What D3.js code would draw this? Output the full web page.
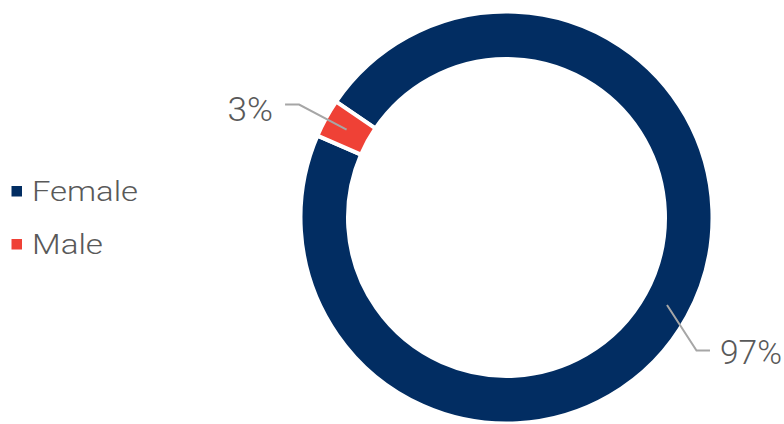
<!DOCTYPE html>
<html>
<head>
<meta charset="utf-8">
<script src="https://cdn.jsdelivr.net/npm/d3@7"></script>
<style>
  html, body { margin: 0; padding: 0; background: #fff; }
  svg { display: block; }
  text { font-family: Roboto, "Open Sans", sans-serif; font-weight: 300; fill: #595959; }
</style>
</head>
<body>
<svg id="chart" width="784" height="424"></svg>
<script>
const categories = ["Female", "Male"];
const values = [97, 3];
const valueLabels = ["97%", "3%"];
const colors = ["#022D62", "#EF4136"];

const svg = d3.select("#chart");
const cx = 506.5, cy = 217.5;
const outerR = 206, innerR = 158.5;
const startDeg = -55.8;

const pie = d3.pie().sort(null).value(d => d)
  .startAngle(startDeg * Math.PI / 180)
  .endAngle((startDeg + 360) * Math.PI / 180);
const arcs = pie(values);
const arc = d3.arc().innerRadius(innerR).outerRadius(outerR);

const g = svg.append("g").attr("transform", `translate(${cx},${cy})`);
g.selectAll("path.slice").data(arcs).join("path")
  .attr("class", "slice")
  .attr("d", arc)
  .attr("fill", (d, i) => colors[i])
  .attr("stroke", "#fff")
  .attr("stroke-width", 4)
  .attr("stroke-linejoin", "miter");

function pt(angle, r) { return [Math.sin(angle) * r, -Math.cos(angle) * r]; }

// Female label (lower right)
const fp = pt(118.6 * Math.PI / 180, 182.8);
const fElbow = [fp[0] + 29.5, fp[1] + 45.5];
const fEnd = [fElbow[0] + 13.5, fElbow[1]];
g.append("polyline")
  .attr("points", [fp, fElbow, fEnd].map(p => p.join(",")).join(" "))
  .attr("fill", "none").attr("stroke", "#A6A6A6").attr("stroke-width", 2);
g.append("text").attr("x", fEnd[0] + 10).attr("y", fElbow[1] + 13.3)
  .attr("font-size", 33)
  .attr("textLength", 62).attr("lengthAdjust", "spacingAndGlyphs")
  .text(valueLabels[0]);

// Male label (upper left)
const mMid = (arcs[1].startAngle + arcs[1].endAngle) / 2;
const mp = pt(mMid, 182.5);
const mElbow = [mp[0] - 47.5, mp[1] - 25];
const mEnd = [mElbow[0] - 14, mElbow[1]];
g.append("polyline")
  .attr("points", [mp, mElbow, mEnd].map(p => p.join(",")).join(" "))
  .attr("fill", "none").attr("stroke", "#A6A6A6").attr("stroke-width", 2);
g.append("text").attr("x", mEnd[0] - 12 - 45.5).attr("y", mElbow[1] + 16)
  .attr("font-size", 33)
  .attr("textLength", 45.5).attr("lengthAdjust", "spacingAndGlyphs")
  .text(valueLabels[1]);

// legend
const legendWidths = [106, 71];
const legend = svg.append("g");
categories.forEach((c, i) => {
  const y0 = 186 + i * 53;
  legend.append("rect").attr("x", 11.5).attr("y", y0).attr("width", 10.5).attr("height", 10.5)
    .attr("fill", colors[i]);
  legend.append("text").attr("x", 32).attr("y", y0 + 15)
    .attr("font-size", 27)
    .attr("textLength", legendWidths[i]).attr("lengthAdjust", "spacingAndGlyphs")
    .text(c);
});
</script>
</body>
</html>
